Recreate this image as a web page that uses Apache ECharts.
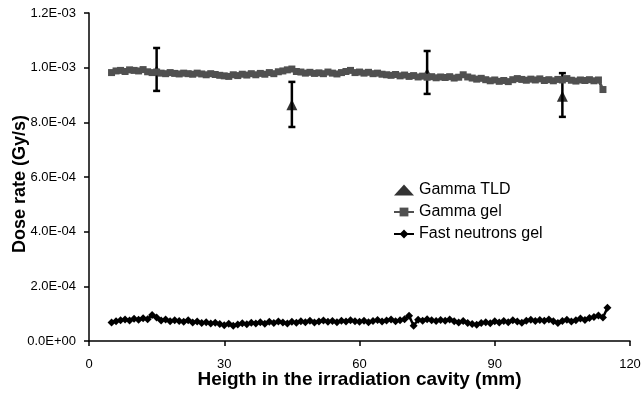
<!DOCTYPE html>
<html>
<head>
<meta charset="utf-8">
<script src="https://cdn.jsdelivr.net/npm/echarts@6/dist/echarts.min.js"></script>
<style>
  html, body { margin: 0; padding: 0; background: #fff; }
  #chart { width: 643px; height: 394px; }
</style>
</head>
<body>
<div id="chart"></div>
<script>
// heights along the cavity (mm) where the gel was read
let heights = [5, 6, 7, 8, 9, 10, 11, 12, 13, 14, 15, 16, 17, 18, 19, 20, 21, 22, 23, 24,
  25, 26, 27, 28, 29, 30, 31, 32, 33, 34, 35, 36, 37, 38, 39, 40, 41, 42, 43, 44,
  45, 46, 47, 48, 49, 50, 51, 52, 53, 54, 55, 56, 57, 58, 59, 60, 61, 62, 63, 64,
  65, 66, 67, 68, 69, 70, 71, 72, 73, 74, 75, 76, 77, 78, 79, 80, 81, 82, 83, 84,
  85, 86, 87, 88, 89, 90, 91, 92, 93, 94, 95, 96, 97, 98, 99, 100, 101, 102, 103, 104,
  105, 106, 107, 108, 109, 110, 111, 112, 113, 114, 115]

// gamma gel dose rate (Gy/s), 5..114 mm
let gammaGel = [9.82e-4, 9.88e-4, 9.90e-4, 9.86e-4, 9.92e-4, 9.90e-4, 9.88e-4, 9.93e-4, 9.85e-4, 9.82e-4,
  9.84e-4, 9.80e-4, 9.78e-4, 9.82e-4, 9.79e-4, 9.77e-4, 9.80e-4, 9.78e-4, 9.76e-4, 9.80e-4,
  9.77e-4, 9.74e-4, 9.78e-4, 9.75e-4, 9.72e-4, 9.70e-4, 9.68e-4, 9.74e-4, 9.71e-4, 9.76e-4,
  9.73e-4, 9.78e-4, 9.74e-4, 9.79e-4, 9.76e-4, 9.82e-4, 9.78e-4, 9.85e-4, 9.88e-4, 9.92e-4,
  9.95e-4, 9.86e-4, 9.84e-4, 9.80e-4, 9.83e-4, 9.79e-4, 9.81e-4, 9.78e-4, 9.84e-4, 9.80e-4,
  9.77e-4, 9.82e-4, 9.86e-4, 9.90e-4, 9.82e-4, 9.84e-4, 9.80e-4, 9.83e-4, 9.78e-4, 9.80e-4,
  9.76e-4, 9.74e-4, 9.72e-4, 9.75e-4, 9.70e-4, 9.73e-4, 9.68e-4, 9.71e-4, 9.66e-4, 9.69e-4,
  9.65e-4, 9.67e-4, 9.63e-4, 9.66e-4, 9.64e-4, 9.67e-4, 9.62e-4, 9.65e-4, 9.74e-4, 9.66e-4,
  9.62e-4, 9.58e-4, 9.61e-4, 9.56e-4, 9.52e-4, 9.55e-4, 9.50e-4, 9.53e-4, 9.49e-4, 9.56e-4,
  9.60e-4, 9.57e-4, 9.54e-4, 9.58e-4, 9.55e-4, 9.59e-4, 9.53e-4, 9.56e-4, 9.52e-4, 9.57e-4,
  9.55e-4, 9.60e-4, 9.54e-4, 9.51e-4, 9.55e-4, 9.53e-4, 9.56e-4, 9.52e-4, 9.55e-4, 9.20e-4]

// fast neutrons gel dose rate (Gy/s), 5..115 mm
let neutronGel = [6.8e-5, 7.2e-5, 7.6e-5, 7.9e-5, 7.5e-5, 8.1e-5, 7.8e-5, 8.3e-5, 8.0e-5, 9.5e-5,
  8.6e-5, 7.5e-5, 7.9e-5, 7.2e-5, 7.6e-5, 7.3e-5, 7.0e-5, 7.6e-5, 6.8e-5, 7.1e-5,
  6.6e-5, 6.9e-5, 6.4e-5, 6.7e-5, 6.2e-5, 5.8e-5, 6.3e-5, 5.6e-5, 6.0e-5, 6.5e-5,
  6.1e-5, 6.7e-5, 6.4e-5, 6.9e-5, 6.3e-5, 7.0e-5, 6.6e-5, 7.1e-5, 6.8e-5, 6.4e-5,
  7.0e-5, 6.7e-5, 7.2e-5, 6.9e-5, 7.4e-5, 6.8e-5, 7.1e-5, 7.5e-5, 7.0e-5, 7.3e-5,
  6.9e-5, 7.4e-5, 7.1e-5, 7.6e-5, 7.2e-5, 7.0e-5, 7.4e-5, 6.9e-5, 7.3e-5, 7.7e-5,
  7.1e-5, 7.5e-5, 7.9e-5, 7.2e-5, 7.6e-5, 8.0e-5, 9.2e-5, 5.6e-5, 7.8e-5, 7.4e-5,
  8.0e-5, 7.6e-5, 7.3e-5, 7.7e-5, 7.4e-5, 7.9e-5, 7.2e-5, 6.8e-5, 7.3e-5, 6.6e-5,
  6.2e-5, 5.9e-5, 6.6e-5, 6.9e-5, 6.5e-5, 7.2e-5, 6.8e-5, 7.3e-5, 6.9e-5, 7.6e-5,
  7.1e-5, 6.7e-5, 7.4e-5, 7.8e-5, 7.3e-5, 7.7e-5, 7.4e-5, 7.9e-5, 7.2e-5, 6.6e-5,
  7.3e-5, 7.8e-5, 7.1e-5, 7.6e-5, 8.2e-5, 7.7e-5, 8.4e-5, 8.8e-5, 9.3e-5, 8.6e-5, 1.22e-4]

// TLD measurements with error bar ends
let tldHeights = [15, 45, 75, 105]
let tldDose = [9.90e-4, 8.64e-4, 9.80e-4, 8.95e-4]
let tldLow = [9.15e-4, 7.83e-4, 9.04e-4, 8.20e-4]
let tldHigh = [1.072e-3, 9.48e-4, 1.061e-3, 9.80e-4]

let xTicks = { min: 0, max: 120, interval: 30 }
let yTicks = { min: 0, max: 1.2e-3, interval: 2e-4 }

let font = 'Liberation Sans'

function sci(v) {
  if (v === 0) return '0.0E+00'
  let [m, e] = v.toExponential(1).split('e')
  let n = parseInt(e)
  return m + 'E' + (n < 0 ? '-' : '+') + String(Math.abs(n)).padStart(2, '0')
}

let chart = echarts.init(document.getElementById('chart'))
chart.setOption({
  animation: false,
  backgroundColor: '#fff',
  textStyle: { fontFamily: font },
  grid: { left: 89, right: 13, top: 13, bottom: 53, outerBoundsMode: 'none', containLabel: false },
  legend: {
    data: ['Gamma TLD', 'Gamma gel', 'Fast neutrons gel'],
    orient: 'vertical',
    left: 388,
    top: 177,
    itemWidth: 20,
    itemHeight: 11,
    itemGap: 6,
    textStyle: { fontFamily: font, fontSize: 16, color: '#000' }
  },
  xAxis: {
    type: 'value',
    min: xTicks.min, max: xTicks.max, interval: xTicks.interval,
    name: 'Heigth in the irradiation cavity (mm)',
    nameLocation: 'middle',
    nameGap: 29,
    nameMoveOverlap: false,
    nameTextStyle: { fontFamily: font, fontSize: 19, fontWeight: 'bold', color: '#000' },
    axisLine: { lineStyle: { color: '#000', width: 1.5 } },
    axisTick: { inside: false, length: 5, lineStyle: { color: '#000', width: 1.5 } },
    axisLabel: { margin: 17, fontSize: 13, color: '#000', fontFamily: font },
    splitLine: { show: false }
  },
  yAxis: {
    type: 'value',
    min: yTicks.min, max: yTicks.max, interval: yTicks.interval,
    name: 'Dose rate (Gy/s)',
    nameLocation: 'middle',
    nameGap: 60,
    nameMoveOverlap: false,
    nameTextStyle: { fontFamily: font, fontSize: 18, fontWeight: 'bold', color: '#000', padding: [0, 14, 0, 0] },
    axisLine: { show: true, lineStyle: { color: '#000', width: 1.5 } },
    axisTick: { show: true, inside: false, length: 5, lineStyle: { color: '#000', width: 1.5 } },
    axisLabel: { margin: 13, fontSize: 13, color: '#000', fontFamily: font, formatter: sci },
    splitLine: { show: false }
  },
  series: [
    {
      name: 'TLD error',
      type: 'custom',
      z: 1,
      silent: true,
      data: tldHeights.map((h, i) => [h, tldLow[i], tldHigh[i]]),
      encode: { x: 0, y: [1, 2] },
      renderItem(params, api) {
        let x = api.value(0)
        let lo = api.coord([x, api.value(1)])
        let hi = api.coord([x, api.value(2)])
        let cap = 3.5
        let st = { stroke: '#000', lineWidth: 2.5 }
        return {
          type: 'group',
          children: [
            { type: 'line', shape: { x1: lo[0], y1: lo[1], x2: hi[0], y2: hi[1] }, style: st },
            { type: 'line', shape: { x1: lo[0] - cap, y1: lo[1], x2: lo[0] + cap, y2: lo[1] }, style: st },
            { type: 'line', shape: { x1: hi[0] - cap, y1: hi[1], x2: hi[0] + cap, y2: hi[1] }, style: st }
          ]
        }
      }
    },
    {
      name: 'Gamma TLD',
      type: 'scatter',
      z: 2,
      symbol: 'triangle',
      symbolSize: [11, 11],
      itemStyle: { color: '#000' },
      data: tldHeights.map((h, i) => [h, tldDose[i]])
    },
    {
      name: 'Gamma gel',
      type: 'line',
      z: 3,
      symbol: 'rect',
      symbolSize: 7,
      showAllSymbol: true,
      lineStyle: { color: '#505050', width: 3 },
      itemStyle: { color: '#505050', borderWidth: 0 },
      data: gammaGel.map((v, i) => [heights[i], v])
    },
    {
      name: 'Fast neutrons gel',
      type: 'line',
      z: 3,
      symbol: 'diamond',
      symbolSize: 8,
      showAllSymbol: true,
      lineStyle: { color: '#000', width: 2.5 },
      itemStyle: { color: '#000', borderWidth: 0 },
      data: neutronGel.map((v, i) => [heights[i], v])
    }
  ]
})
</script>
</body>
</html>
